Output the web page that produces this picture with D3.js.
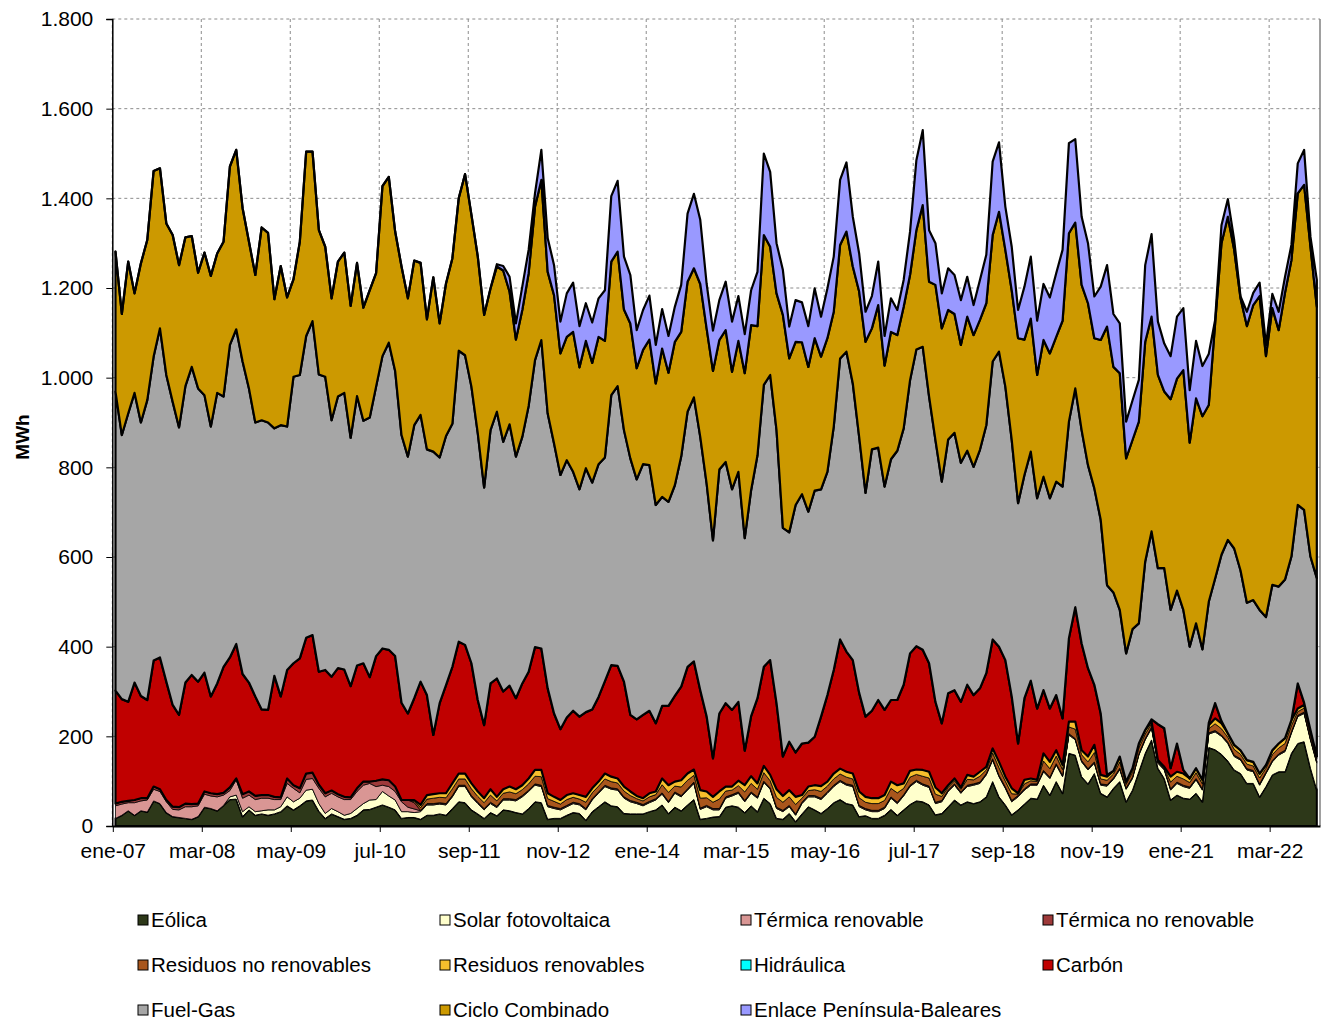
<!DOCTYPE html>
<html><head><meta charset="utf-8">
<script src="https://cdn.jsdelivr.net/npm/d3@7"></script>
<style>body{margin:0;background:#fff;} svg{display:block;font-family:Arial,"Liberation Sans",sans-serif;}</style>
</head><body><svg id="c" width="1327" height="1020"></svg>
<script>
const monthNames = ["ene","feb","mar","abr","may","jun","jul","ago","sep","oct","nov","dic"];
const categories = [];
for (let i = 0; i < 190; i++) categories.push(monthNames[i % 12] + "-" + String(7 + Math.floor(i / 12)).padStart(2, "0"));
const tickLabels = ["ene-07","mar-08","may-09","jul-10","sep-11","nov-12","ene-14","mar-15","may-16","jul-17","sep-18","nov-19","ene-21","mar-22"];
const yTicks = [0,200,400,600,800,1000,1200,1400,1600,1800];

const eolica = [17,24,34,24,34,31,56,50,30,21, 19,17,15,21,42,39,34,46,59,60, 21,36,24,27,24,27,32,45,36,45, 56,58,33,17,27,21,15,17,24,36,
 37,42,47,42,36,17,19,19,15,24, 24,27,24,39,54,52,36,27,17,30, 23,36,34,30,27,39,54,52,15,17, 17,24,30,28,13,32,43,54,45,43,
 28,27,27,27,32,36,47,28,42,34, 47,59,15,17,20,21,42,45,42,30, 45,32,62,50,17,15,28,10,27,43, 36,28,39,52,59,50,47,21,23,17,
 17,24,37,24,36,48,56,54,47,25, 28,43,58,47,54,50,54,65,99,65, 47,25,36,49,62,60,91,69,99,73, 162,158,110,94,117,73,65,84,99,54,
 80,121,162,192,129,106,58,69,62,60, 73,54,175,170,160,145,125,117,95,95, 65,88,114,121,121,162,184,188,129,80];
const solar = [0,0,0,0,0,0,0,0,0,0, 0,0,0,0,0,0,0,0,6,9, 11,7,8,7,12,9,11,20,18,17, 24,24,17,11,12,11,9,11,15,14,
 21,17,30,25,22,15,13,11,17,23, 23,22,23,26,34,36,29,23,19,20, 18,22,24,26,38,38,37,36,28,22, 19,19,20,19,23,26,30,34,37,37,
 34,27,23,18,20,22,24,24,31,31, 33,36,22,26,16,15,20,22,31,24, 28,30,35,32,22,17,15,14,23,22, 29,31,34,36,40,41,41,22,13,15,
 15,15,25,26,31,40,43,37,39,25, 26,34,33,26,34,41,41,49,48,45, 37,29,29,31,29,31,30,37,37,37, 41,34,33,31,23,18,24,20,27,28,
 26,37,30,26,11,19,22,26,26,24, 30,26,30,40,40,39,30,30,30,26, 26,29,29,37,45,45,60,63,63,60];
const termicaRenovable = [28,25,18,28,22,27,26,27,24,16, 17,26,28,24,29,28,31,23,14,34, 30,26,27,28,26,23,16,30,30,12, 24,24,34,37,34,33,35,31,38,41,
 37,29,14,21,19,22,10,8,2,2, 2,2,2,2,2,2,2,2,2,2, 2,2,2,2,2,2,2,2,2,2, 2,2,2,2,2,2,2,2,2,2,
 2,2,2,2,2,2,2,2,2,2, 2,2,2,2,2,2,2,2,2,2, 2,2,2,2,2,2,2,2,2,2, 2,2,2,2,2,2,2,2,2,2,
 2,2,2,2,2,2,2,2,2,2, 2,2,2,2,2,2,2,2,2,2, 2,2,2,2,2,2,2,2,2,2, 2,2,2,2,2,2,2,2,2,2,
 2,2,2,2,2,2,2,2,2,2, 2,2,2,2,2,2,2,2,2,2, 2,2,2,2,2,2,2,2,2,2];
const termicaNoRenovable = [5,5,4,6,6,4,6,5,4,6, 6,7,6,5,6,6,6,5,7,3, 9,8,8,7,7,6,5,11,7,10, 13,13,8,8,6,6,6,5,7,8,
 4,13,13,14,11,4,16,14,1,1, 1,1,1,1,1,1,1,1,1,1, 1,1,1,1,1,1,1,1,1,1, 1,1,1,1,1,1,1,1,1,1,
 1,1,1,1,1,1,1,1,1,1, 1,1,1,1,1,1,1,1,1,1, 1,1,1,1,1,1,1,1,1,1, 1,1,1,1,1,1,1,1,1,1,
 1,1,1,1,1,1,1,1,1,1, 1,1,1,1,1,1,1,1,1,1, 1,1,1,1,1,1,1,1,1,1, 1,1,1,1,1,1,1,1,1,1,
 1,1,1,1,1,1,1,1,1,1, 1,1,1,1,1,1,1,1,1,1, 1,1,1,1,1,1,1,1,1,1];
const residuosNoRenovables = [0,0,0,0,0,0,0,0,0,0, 0,0,0,0,0,0,0,0,0,0, 0,0,0,0,0,0,0,0,0,0, 0,0,0,0,0,0,0,0,0,0,
 0,0,0,0,0,0,0,3,6,10, 12,12,13,15,14,14,15,13,13,16, 12,12,15,13,13,14,17,19,15,13, 10,13,11,10,14,13,13,14,14,13,
 13,11,8,8,10,9,18,20,13,19, 19,15,22,17,14,21,13,10,14,19, 19,17,19,16,22,18,19,21,9,11, 13,15,13,14,14,15,14,17,14,15,
 15,15,19,21,14,18,13,17,18,18, 9,6,7,6,13,9,13,8,13,17, 13,15,3,11,7,5,21,19,17,13, 15,21,13,15,21,11,10,9,14,8,
 11,13,10,7,2,2,15,13,14,10, 13,11,9,15,14,11,13,10,10,10, 13,9,13,13,15,14,8,9,10,7];
const residuosRenovables = [0,0,0,0,0,0,0,0,0,0, 0,0,0,0,0,0,0,0,0,0, 0,0,0,0,0,0,0,0,0,0, 0,0,0,0,0,0,0,0,0,0,
 0,0,0,0,0,0,0,3,6,9, 9,9,10,12,12,12,12,11,10,13, 9,9,12,10,10,12,14,15,12,10, 9,10,9,9,12,10,10,12,11,10,
 10,9,6,6,8,7,14,16,10,15, 15,13,18,14,12,17,10,8,11,15, 16,13,15,13,18,14,15,17,7,9, 10,12,10,12,12,12,12,14,12,12,
 12,12,15,17,11,14,11,14,14,15, 7,5,5,4,10,7,10,7,10,13, 10,12,2,9,5,4,17,15,13,10, 12,17,10,12,17,9,8,7,12,6,
 9,10,9,5,2,2,12,10,12,9, 10,9,8,12,12,9,10,9,9,9, 10,7,10,10,12,12,7,7,9,5];
const hidraulica = [0,0,0,0,0,0,0,0,0,0, 0,0,0,0,0,0,0,0,0,0, 0,0,0,0,0,0,0,0,0,0, 0,0,0,0,0,0,0,0,0,0,
 0,0,0,0,0,0,0,0,0,0, 0,0,0,0,0,0,0,0,0,0, 0,0,0,0,0,0,0,0,0,0, 0,0,0,0,0,0,0,0,0,0,
 0,0,0,0,0,0,0,0,0,0, 0,0,0,0,0,0,0,0,0,0, 0,0,0,0,0,0,0,0,0,0, 0,0,0,0,0,0,0,0,0,0,
 0,0,0,0,0,0,0,0,0,0, 0,0,0,0,0,0,0,0,0,0, 0,0,0,0,0,0,0,0,0,0, 0,0,0,0,0,0,0,0,0,0,
 0,0,0,0,0,0,0,0,0,0, 0,0,0,0,0,0,0,0,0,0, 0,0,0,0,0,0,0,0,0,0];
const carbon = [252,229,221,262,228,219,281,294,264,227, 206,270,288,272,265,216,247,281,290,300, 268,243,222,191,190,270,225,242,272,290,
 303,307,252,275,254,281,284,248,274,264, 233,278,292,291,291,217,193,227,275,223, 132,201,241,260,294,287,268,204,163,236,
 264,218,225,203,227,238,274,271,234,186, 158,173,184,175,189,176,189,206,249,251, 234,171,171,186,184,152,162,177,191,209,
 238,241,223,168,86,174,186,171,176,77, 134,190,221,256,192,88,108,99,115,98, 108,155,193,231,288,268,253,220,179,195,
 219,190,182,190,220,262,275,268,242,191, 156,205,197,191,201,182,186,209,243,257, 260,205,111,182,218,159,141,119,123,104,
 186,255,238,197,134,137,4,0,0,0, 0,0,0,5,80,86,19,63,8,0, 0,0,5,34,5,0,0,0,0,0, 0,0,0,0,0,0,56,5,0,0];
const fuelGas = [667,589,643,646,610,669,678,734,684,676, 641,661,687,654,619,602,648,603,697,702, 697,656,611,645,641,552,605,543,639,632,
 673,700,663,654,572,606,617,554,601,541, 579,601,652,685,636,597,573,609,595,548, 632,548,556,542,649,646,617,595,530,565,
 595,557,583,539,550,593,640,688,613,602, 567,574,533,507,544,506,519,499,602,624, 561,572,535,559,548,487,466,455,470,513,
 569,589,565,519,486,544,538,492,513,474, 504,542,629,636,609,510,467,552,556,515, 549,507,498,543,627,669,617,571,499,583,
 563,498,537,556,572,609,662,676,595,584, 539,566,574,533,522,509,532,553,620,658, 610,572,536,498,511,469,476,469,476,517,
 483,488,476,453,438,432,423,398,327,286, 310,268,376,419,348,357,353,341,357,294, 323,291,270,278,371,431,438,401,351,361,
 365,330,369,350,354,365,398,430,387,398];
const cicloCombinado = [312,270,339,222,355,357,414,357,338,372, 362,332,292,258,318,336,311,345,398,400, 342,327,329,430,423,288,355,288,217,297,
 411,378,322,290,272,301,313,294,297,252, 284,253,379,370,311,376,353,367,339,290, 389,299,340,369,340,404,383,394,385,316,
 324,382,296,261,283,296,342,357,316,331, 271,275,312,272,284,267,284,260,298,300, 269,301,248,255,280,271,331,288,320,278,
 290,288,341,346,378,289,294,262,292,368, 368,288,334,286,305,475,388,364,339,323, 340,296,298,256,253,268,261,324,337,270,
 318,270,284,258,271,235,266,316,256,346, 342,289,265,263,299,294,290,272,282,312, 305,334,368,302,297,275,305,323,323,370,
 420,370,324,361,335,401,577,503,528,435, 422,450,490,479,431,394,470,473,535,455, 502,520,439,569,695,721,666,607,617,658,
 700,582,617,572,640,661,695,725,691,605];
const enlace = [0,0,0,0,0,0,0,0,0,0, 0,0,0,0,0,0,0,0,0,0, 0,0,0,0,0,0,0,0,0,0, 0,0,0,0,0,0,0,0,0,0,
 0,0,0,0,0,0,0,0,0,0, 0,0,0,0,0,0,0,0,0,0, 5,10,33,36,52,52,30,67,75,67, 71,97,110,92,84,90,86,113,146,158,
 118,108,85,89,98,86,88,82,78,105, 152,166,143,100,90,89,108,112,100,87, 78,121,182,167,112,100,71,93,89,91, 111,89,111,123,145,154,111,85,67,72,
 97,66,75,56,60,96,156,167,115,93, 78,93,87,100,89,67,89,108,164,155, 96,97,63,118,138,121,125,125,142,158,
 201,186,152,134,93,119,137,118,111,82, 88,93,171,184,119,107,96,138,138,117, 128,112,114,8,40,39,22,4,32,27,
 30,25,32,41,35,34,67,78,22,60];

const seriesDefs = [
  {key:"Eólica", values:eolica, color:"#2D3819", sw:2},
  {key:"Solar fotovoltaica", values:solar, color:"#FFFFCC", sw:1},
  {key:"Térmica renovable", values:termicaRenovable, color:"#D99694", sw:0.8},
  {key:"Térmica no renovable", values:termicaNoRenovable, color:"#9E3A3A", sw:0.8},
  {key:"Residuos no renovables", values:residuosNoRenovables, color:"#A9561C", sw:0.8},
  {key:"Residuos renovables", values:residuosRenovables, color:"#F6BE2C", sw:0.8},
  {key:"Hidráulica", values:hidraulica, color:"#00FFFF", sw:0},
  {key:"Carbón", values:carbon, color:"#C00000", sw:2.2},
  {key:"Fuel-Gas", values:fuelGas, color:"#A6A6A6", sw:2.2},
  {key:"Ciclo Combinado", values:cicloCombinado, color:"#CC9900", sw:2.2},
  {key:"Enlace Península-Baleares", values:enlace, color:"#9999FF", sw:2.2}
];

const table = categories.map((c, i) => {
  const o = {cat: c};
  seriesDefs.forEach(s => o[s.key] = s.values[i]);
  return o;
});

const svg = d3.select("#c");
const L = 112.3, R = 1320, T = 19, B = 826;
const x = d3.scaleBand().domain(categories).range([L, R]).paddingInner(0).paddingOuter(0);
const y = d3.scaleLinear().domain([0, 1800]).range([B, T]);
const cx = d => x(d.data.cat) + x.bandwidth() / 2;

// gridlines
const grid = svg.append("g");
yTicks.filter(v => v > 0).forEach(v => {
  grid.append("line").attr("x1", L).attr("x2", R).attr("y1", y(v)).attr("y2", y(v))
    .attr("stroke", "#8c8c8c").attr("stroke-width", 1).attr("stroke-dasharray", "3,3");
});
tickLabels.forEach(t => {
  grid.append("line").attr("x1", x(t)).attr("x2", x(t)).attr("y1", T).attr("y2", B)
    .attr("stroke", "#8c8c8c").attr("stroke-width", 1).attr("stroke-dasharray", "3,3");
});
svg.append("line").attr("x1", R).attr("x2", R).attr("y1", T).attr("y2", B).attr("stroke", "#808080").attr("stroke-width", 1.5);

// stack
const stack = d3.stack().keys(seriesDefs.map(s => s.key));
const layers = stack(table);
const area = d3.area().x(cx).y0(d => y(d[0])).y1(d => y(d[1]));
svg.append("g").selectAll("path").data(layers).join("path")
  .attr("d", area)
  .attr("fill", (d, i) => seriesDefs[i].color)
  .attr("stroke", (d, i) => seriesDefs[i].sw > 0 ? "#000" : "none")
  .attr("stroke-width", (d, i) => seriesDefs[i].sw)
  .attr("stroke-linejoin", "round");

// axes
const yAxis = svg.append("g").attr("transform", `translate(${L},0)`)
  .call(d3.axisLeft(y).tickValues(yTicks).tickSize(6).tickFormat(v => d3.format(",")(v).replace(/,/g, ".")));
yAxis.select(".domain").attr("stroke", "#000").attr("stroke-width", 1.5);
yAxis.selectAll(".tick line").attr("stroke", "#000");
yAxis.selectAll("text").attr("font-size", 21).attr("fill", "#000").attr("x", -19).attr("font-family", "Arial, 'Liberation Sans', sans-serif");

const xAxis = svg.append("g").attr("transform", `translate(0,${B})`)
  .call(d3.axisBottom(x).tickValues(tickLabels).tickSize(6).tickSizeOuter(0));
xAxis.selectAll(".tick").attr("transform", d => `translate(${x(d) + 1},0)`);
xAxis.select(".domain").attr("stroke", "#000").attr("stroke-width", 2);
xAxis.selectAll(".tick line").attr("stroke", "#000");
xAxis.selectAll("text").attr("font-size", 21).attr("fill", "#000").attr("y", 17).attr("font-family", "Arial, 'Liberation Sans', sans-serif");

svg.append("text").attr("transform", "translate(29,437) rotate(-90)").attr("text-anchor", "middle")
  .attr("font-size", 19).attr("font-weight", "bold").text("MWh");

// legend
const legCols = [138, 440, 741, 1043], legRows = [920, 965, 1010];
seriesDefs.forEach((s, i) => {
  const gx = legCols[i % 4], gy = legRows[Math.floor(i / 4)];
  const g = svg.append("g").attr("transform", `translate(${gx},${gy})`);
  g.append("rect").attr("x", 0).attr("y", -5).attr("width", 10).attr("height", 10)
    .attr("fill", s.color).attr("stroke", "#000").attr("stroke-width", 1);
  g.append("text").attr("x", 13).attr("y", 7).attr("font-size", 20.5).text(s.key);
});
</script></body></html>
